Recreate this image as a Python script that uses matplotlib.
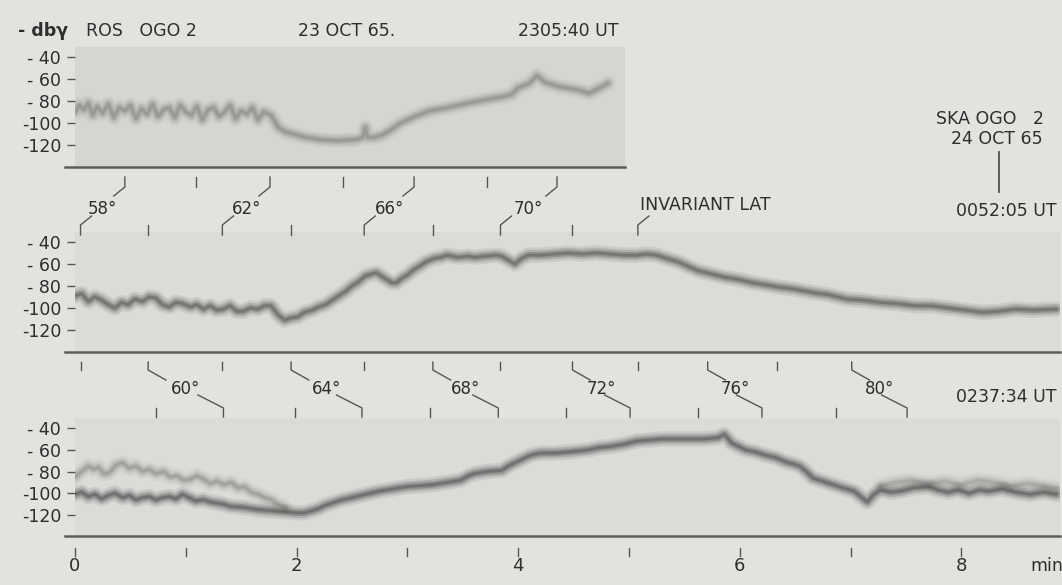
"""OGO 2 VLF hiss records: ROS 23 Oct 65 and SKA 24 Oct 65, intensity vs time."""
import matplotlib
matplotlib.use("Agg")
import matplotlib.pyplot as plt
from matplotlib.lines import Line2D

# --- ROS OGO 2, 23 OCT 65, 2305:40 UT (upper record) ---
ros_t = [0.00, 0.04, 0.08, 0.12, 0.16, 0.20, 0.25, 0.30, 0.35, 0.40, 0.45, 0.50,
         0.55, 0.60, 0.65, 0.70, 0.75, 0.80, 0.85, 0.90, 0.95, 1.00, 1.05, 1.10,
         1.15, 1.20, 1.25, 1.30, 1.35, 1.40, 1.45, 1.50, 1.55, 1.60, 1.65, 1.70,
         1.77, 1.835, 1.90, 1.97, 2.08, 2.20, 2.37, 2.54, 2.60, 2.62, 2.64, 2.70,
         2.77, 2.84, 2.94, 3.07, 3.20, 3.37, 3.54, 3.70, 3.87, 3.94, 4.00, 4.10,
         4.17, 4.24, 4.37, 4.54, 4.64, 4.74, 4.81]
ros_db = [-90, -84, -88, -82, -93, -85, -91, -83, -95, -86, -89, -84,
          -96, -87, -92, -83, -94, -88, -86, -95, -84, -90, -93, -85,
          -97, -88, -86, -94, -90, -84, -96, -89, -92, -86, -97, -90,
          -93, -104, -108, -110, -113, -115, -116, -115, -113, -104, -113, -113,
          -111, -107, -100, -94, -89, -86, -82, -79, -76, -74, -68, -64,
          -57, -63, -67, -70, -73, -68, -64]

# --- SKA OGO 2, 24 OCT 65, 0052:05 UT (middle record) ---
ska1_t = [0.00, 0.06, 0.12, 0.18, 0.24, 0.30, 0.36, 0.42, 0.48, 0.54, 0.61, 0.67,
          0.73, 0.79, 0.85, 0.91, 0.97, 1.04, 1.10, 1.16, 1.22, 1.28, 1.34, 1.40,
          1.46, 1.52, 1.58, 1.65, 1.71, 1.77, 1.83, 1.89, 1.95, 2.01, 2.07, 2.14,
          2.20, 2.26, 2.32, 2.38, 2.44, 2.50, 2.56, 2.62, 2.68, 2.72, 2.78, 2.81,
          2.86, 2.90, 2.95, 3.00, 3.06, 3.11, 3.17, 3.24, 3.30, 3.36, 3.45, 3.55,
          3.60, 3.70, 3.80, 3.85, 3.92, 3.97, 4.03, 4.09, 4.20, 4.34, 4.45, 4.58,
          4.70, 4.83, 4.95, 5.07, 5.16, 5.25, 5.34, 5.44, 5.53, 5.62, 5.74, 5.86,
          5.98, 6.11, 6.23, 6.35, 6.50, 6.66, 6.80, 6.97, 7.12, 7.27, 7.42, 7.58,
          7.73, 7.88, 8.04, 8.19, 8.34, 8.49, 8.65, 8.86]
ska1_db = [-89, -87, -94, -90, -93, -97, -100, -95, -97, -92, -94, -90,
           -91, -97, -99, -95, -96, -99, -97, -101, -98, -102, -101, -98,
           -103, -103, -100, -101, -98, -98, -106, -111, -109, -108, -104, -102,
           -99, -97, -93, -89, -85, -80, -76, -71, -69, -68, -72, -74,
           -77, -77, -73, -70, -65, -62, -58, -55, -54, -52, -54, -53,
           -54, -53, -52, -53, -57, -60, -55, -52, -52, -51, -50, -51,
           -50, -51, -52, -52, -51, -52, -55, -58, -62, -66, -69, -72,
           -74, -77, -79, -81, -83, -86, -88, -92, -93, -95, -96, -98,
           -98, -100, -102, -104, -103, -101, -102, -101]

# --- SKA OGO 2, 24 OCT 65, 0237:34 UT (lower record) ---
ska2_t = [0.00, 0.06, 0.12, 0.18, 0.24, 0.30, 0.36, 0.43, 0.49, 0.55, 0.61, 0.67,
          0.73, 0.79, 0.85, 0.91, 0.97, 1.03, 1.09, 1.16, 1.22, 1.28, 1.34, 1.40,
          1.52, 1.65, 1.77, 1.89, 2.00, 2.07, 2.14, 2.20, 2.26, 2.32, 2.41, 2.50,
          2.62, 2.75, 2.87, 2.99, 3.12, 3.24, 3.36, 3.48, 3.55, 3.60, 3.72, 3.85,
          3.91, 3.97, 4.03, 4.09, 4.15, 4.21, 4.33, 4.46, 4.55, 4.64, 4.73, 4.83,
          4.95, 5.07, 5.19, 5.31, 5.43, 5.56, 5.68, 5.80, 5.86, 5.93, 5.99, 6.05,
          6.14, 6.23, 6.32, 6.41, 6.48, 6.54, 6.60, 6.66, 6.75, 6.84, 6.93, 7.03,
          7.09, 7.15, 7.21, 7.27, 7.36, 7.45, 7.57, 7.70, 7.79, 7.88, 7.97, 8.07,
          8.16, 8.25, 8.37, 8.49, 8.62, 8.74, 8.86]
ska2_db = [-101, -99, -103, -101, -105, -102, -100, -104, -102, -106, -104, -103,
           -106, -104, -103, -105, -101, -104, -107, -106, -108, -109, -110, -112,
           -113, -115, -116, -117, -118, -118, -116, -114, -111, -109, -106, -104,
           -101, -98, -96, -94, -93, -92, -90, -88, -84, -82, -80, -79,
           -75, -72, -69, -66, -64, -63, -63, -62, -61, -60, -58, -57,
           -55, -52, -51, -50, -50, -50, -50, -49, -46, -54, -57, -60,
           -62, -65, -67, -71, -73, -75, -80, -86, -89, -92, -95, -98,
           -103, -108, -101, -97, -99, -98, -95, -94, -97, -99, -97, -100,
           -97, -98, -96, -99, -101, -99, -101]
# faint second trace at the start of the lower record
ska2_up_t = [0.00, 0.06, 0.12, 0.17, 0.21, 0.26, 0.31, 0.37, 0.43, 0.49, 0.55, 0.61,
             0.67, 0.73, 0.80, 0.86, 0.92, 0.98, 1.04, 1.10, 1.16, 1.22, 1.28, 1.35,
             1.41, 1.47, 1.53, 1.59, 1.65, 1.71, 1.77, 1.83, 1.90]
ska2_up_db = [-85, -80, -75, -78, -76, -82, -81, -74, -72, -77, -75, -80,
              -78, -82, -80, -85, -84, -88, -87, -84, -87, -91, -89, -92,
              -90, -95, -94, -99, -101, -104, -106, -110, -113]
# upper fringe of the broad band at the end of the lower record
ska2_fr_t = [7.27, 7.40, 7.55, 7.70, 7.85, 8.00, 8.15, 8.30, 8.45, 8.60, 8.86]
ska2_fr_db = [-93, -90, -88, -91, -89, -92, -88, -90, -93, -91, -95]

# invariant latitude marks (minutes), 58..80 deg step 2
lat = [58, 60, 62, 64, 66, 68, 70, 72, 74, 76, 78, 80]
ros_lat_t = [0.45, 1.09, 1.76, 2.42, 3.06, 3.72, 4.35]
ska1_lat_t = [0.05, 0.66, 1.33, 1.95, 2.61, 3.23, 3.84, 4.49, 5.08, 5.71, 6.34, 7.01]
ska2_lat_t = [0.73, 1.34, 1.99, 2.59, 3.20, 3.82, 4.43, 5.01, 5.62, 6.20, 6.87, 7.51]

db_ticks = [-40, -60, -80, -100, -120]
db_labels = ["- 40", "- 60", "- 80", "-100", "-120"]
min_ticks = [0, 1, 2, 3, 4, 5, 6, 7, 8]

W, H = 1062, 585
PX_PER_MIN = 110.8
BG, PANEL, INK, LINE = "#e2e2df", "#dbdbd8", "#2e2e2e", "#5c5c5c"
plt.rcParams.update({"font.family": "DejaVu Sans", "font.size": 12.5, "text.color": INK})

fig = plt.figure(figsize=(W / 100, H / 100), dpi=100, facecolor=BG)


def box(x0, y0, x1, y1):
    return [x0 / W, 1 - y1 / H, (x1 - x0) / W, (y1 - y0) / H]


def px(x, y):
    return x / W, 1 - y / H


def panel(rect, tmax, ylim, face):
    ax = fig.add_axes(rect)
    ax.set_facecolor(face)
    ax.set_xlim(0, tmax)
    ax.set_ylim(*ylim)
    for sp in ax.spines.values():
        sp.set_visible(False)
    ax.set_xticks([])
    ax.set_yticks(db_ticks)
    ax.set_yticklabels(db_labels)
    ax.tick_params(axis="y", direction="out", length=6, width=1.0, color="#555555",
                   pad=4, labelsize=12.5, labelcolor=INK)
    wpx = rect[2] * W
    ax.axhline(ylim[0], xmin=-10 / wpx, xmax=1, color=LINE, lw=1.8, clip_on=False)
    return ax


def trace(ax, t, db, col, k=1.0):
    # soft, smeared film trace: several widths stacked
    for lw, a in ((11, 0.10), (7.5, 0.18), (4.5, 0.26), (2.0, 0.30)):
        ax.plot(t, db, color=col, lw=lw, alpha=a * k,
                solid_joinstyle="round", solid_capstyle="round")


ax1 = panel(box(75, 47, 625, 167), 550 / PX_PER_MIN, (-140, -31), "#d5d5d2")
ax2 = panel(box(75, 232, 1060, 352), 985 / PX_PER_MIN, (-140, -31), PANEL)
ax3 = panel(box(75, 418, 1060, 536), 985 / PX_PER_MIN, (-139.3, -30.8), PANEL)

trace(ax1, ros_t, ros_db, "#5e5e5e", 0.75)
trace(ax2, ska1_t, ska1_db, "#3a3a3a")
trace(ax3, ska2_up_t, ska2_up_db, "#555555", 0.6)
trace(ax3, ska2_fr_t, ska2_fr_db, "#555555", 0.5)
trace(ax3, ska2_t, ska2_db, "#333333")


def strip(y0, y1):
    ax = fig.add_axes(box(75, y0, 1060, y1))
    ax.set_xlim(0, 985 / PX_PER_MIN)
    ax.set_ylim(y1 - y0, 0)
    ax.axis("off")
    return ax


kw = dict(color="#555555", lw=1.0, clip_on=False)

# latitude marks between upper and middle record
s1 = strip(167, 242)
for i, t in enumerate(ros_lat_t):
    if lat[i] % 4 == 2:
        s1.plot([t, t, t - 0.1], [10, 20, 29], **kw)
    else:
        s1.plot([t, t], [10, 20], **kw)
for i, t in enumerate(ska1_lat_t[:9]):
    if lat[i] % 4 == 2:
        s1.plot([t + 0.1, t, t], [49, 58, 68], **kw)
    else:
        s1.plot([t, t], [58, 68], **kw)
for i, t in enumerate(ros_lat_t):
    if lat[i] % 4 == 2:
        s1.text((t + ska1_lat_t[i]) / 2, 42, "%d°" % lat[i], ha="center", va="center", fontsize=12)

# latitude marks between middle and lower record
s2 = strip(352, 420)
for i, t in enumerate(ska1_lat_t):
    if lat[i] % 4 == 0:
        s2.plot([t, t, t + 0.16], [10, 18, 28], **kw)
    else:
        s2.plot([t, t], [10, 18], **kw)
for i, t in enumerate(ska2_lat_t):
    if lat[i] % 4 == 0:
        s2.plot([t - 0.23, t, t], [43, 56, 65], **kw)
        s2.text((ska1_lat_t[i] + t) / 2, 37, "%d°" % lat[i], ha="center", va="center", fontsize=12)
    else:
        s2.plot([t, t], [56, 65], **kw)

# time axis
s3 = strip(536, 585)
for m in min_ticks:
    s3.plot([m, m], [12, 20], **kw)
    if m % 2 == 0:
        s3.text(m, 30, str(m), ha="center", va="center", fontsize=13)
s3.text(8.77, 30, "min", ha="center", va="center", fontsize=12.5)

# headers and annotations
fig.text(*px(18, 31), "- dbγ", fontweight="bold", va="center")
fig.text(*px(86, 31), "ROS   OGO 2", va="center")
fig.text(*px(298, 31), "23 OCT 65.", va="center")
fig.text(*px(518, 31), "2305:40 UT", va="center")
fig.text(*px(640, 205), "INVARIANT LAT", va="center")
fig.text(*px(990, 119), "SKA OGO   2", ha="center", va="center")
fig.text(*px(997, 139), "24 OCT 65", ha="center", va="center")
fig.add_artist(Line2D([999 / W, 999 / W], [1 - 152 / H, 1 - 192 / H], color="#444444", lw=1.2))
fig.text(*px(1057, 211), "0052:05 UT", ha="right", va="center")
fig.text(*px(1057, 397), "0237:34 UT", ha="right", va="center")

fig.savefig("out.png", dpi=100, facecolor=BG)
